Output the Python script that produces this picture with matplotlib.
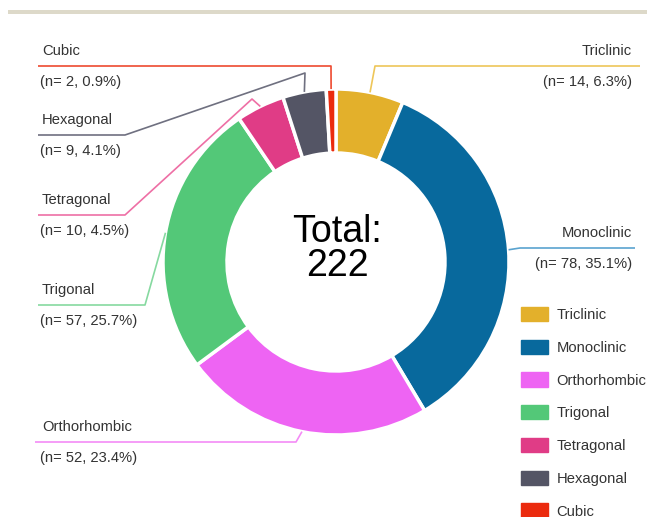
import numpy as np
import matplotlib
matplotlib.use("Agg")
import matplotlib.pyplot as plt
import matplotlib.patches as mpatches

plt.rcParams['font.family'] = ['Liberation Sans', 'DejaVu Sans']

# data
systems = ["Triclinic", "Monoclinic", "Orthorhombic", "Trigonal", "Tetragonal", "Hexagonal", "Cubic"]
counts = [14, 78, 52, 57, 10, 9, 2]
colors = ["#E3B02B", "#08699D", "#EE64F3", "#53C878", "#E03C86", "#545565", "#EB2B0E"]
lineColors = ["#EEC659", "#5AA3CF", "#F48BF6", "#86D9A0", "#EE6FA5", "#6F7080", "#EE4A30"]

W, H = 647, 517
my_dpi = 100
fig = plt.figure(figsize=(W / my_dpi, H / my_dpi), dpi=my_dpi)
ax = fig.add_axes([0, 0, 1, 1])

def py(y):
    # pixel row (from top) -> data y
    return H - y

cx, cy, R = 336, 262, 173
ring = 0.37

wedges, _ = ax.pie(counts, colors=colors, startangle=90, counterclock=False,
                   center=(cx, py(cy)), radius=R, frame=True,
                   wedgeprops=dict(width=R * ring, edgecolor='white', linewidth=2.5))
ax.set_xlim(0, W)
ax.set_ylim(0, H)
ax.set_aspect('equal')
ax.axis('off')

ax.add_patch(mpatches.Rectangle((8, py(14)), W - 8, 4, color="#DDD9C9", lw=0))

ax.text(cx + 1, py(249), "Total:\n222", ha='center', va='center', fontsize=27,
        color='black', linespacing=0.95)

total = sum(counts)
# leader-line layout: (elbow points in px, horizontal line y, end x, side)
layout = {
    "Triclinic":    ([(375, 66)], 66, 640, 'right'),
    "Monoclinic":   ([(520, 248)], 248, 635, 'right'),
    "Orthorhombic": ([(296, 442)], 442, 35, 'left'),
    "Trigonal":     ([(145, 305)], 305, 38, 'left'),
    "Tetragonal":   ([(252, 99), (125, 215)], 215, 38, 'left'),
    "Hexagonal":    ([(305, 73), (125, 135)], 135, 38, 'left'),
    "Cubic":        ([(331, 66)], 66, 38, 'left'),
}

for w, name, n, lc in zip(wedges, systems, counts, lineColors):
    mid = np.deg2rad((w.theta1 + w.theta2) / 2)
    sx = cx + R * np.cos(mid)
    sy = py(cy) + R * np.sin(mid)
    elbows, ly, ex, side = layout[name]
    xs = [sx] + [e[0] for e in elbows] + [ex]
    ys = [sy] + [py(e[1]) for e in elbows] + [py(ly)]
    ax.plot(xs, ys, color=lc, lw=1.2, solid_capstyle='butt')
    pct = 100.0 * n / total
    if side == 'left':
        tx, ha = 42, 'left'
    else:
        tx, ha = 632, 'right'
    ax.text(tx, py(ly - 15), name, ha=ha, va='center', fontsize=10.6, color='#333333')
    ax.text(tx - 2 if side == 'left' else tx, py(ly + 16), "(n= %d, %.1f%%)" % (n, pct),
            ha=ha, va='center', fontsize=10.6, color='#333333')

handles = [mpatches.Patch(facecolor=c, edgecolor=c, label=s) for s, c in zip(systems, colors)]
fig.legend(handles=handles, loc='upper left', bbox_to_anchor=(521 / W, 1 - 307 / H),
           frameon=False, fontsize=10.6, labelspacing=1.2, handlelength=1.8,
           handleheight=1.1, handletextpad=0.6, borderpad=0, borderaxespad=0,
           labelcolor='#333333')

fig.savefig("out.png", dpi=my_dpi)
